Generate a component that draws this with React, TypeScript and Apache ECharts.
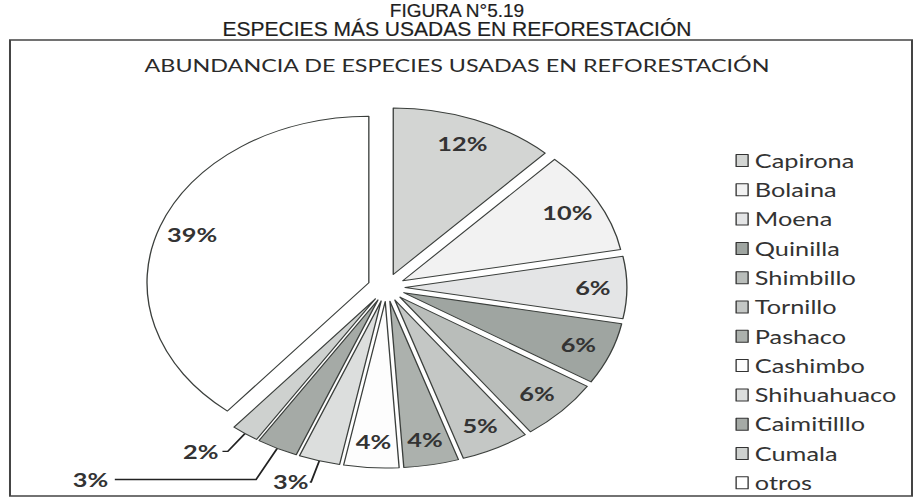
import React, { useEffect, useRef } from 'react';
import * as echarts from 'echarts';

const names = ['Capirona', 'Bolaina', 'Moena', 'Quinilla', 'Shimbillo', 'Tornillo', 'Pashaco', 'Cashimbo', 'Shihuahuaco', 'Caimitilllo', 'Cumala', 'otros'];
const values = [12, 10, 6, 6, 6, 5, 4, 4, 3, 3, 2, 39];
const colors = ['#d3d5d3', '#f2f2f2', '#e4e5e6', '#9fa5a1', '#b9bdba', '#c4c7c5', '#acb1ad', '#fdfdfd', '#dcdedd', '#a5aaa6', '#ced1cf', '#ffffff'];

const docTitle1 = 'FIGURA N°5.19';
const docTitle2 = 'ESPECIES MÁS USADAS EN REFORESTACIÓN';
const chartTitle = 'ABUNDANCIA DE ESPECIES USADAS EN REFORESTACIÓN';

const INNER_W = 686;
const SCALE_X = 914 / INNER_W;

export default function App() {
  const ref = useRef<HTMLDivElement>(null);
  useEffect(() => {
    const chart = echarts.init(ref.current!, undefined, { renderer: 'svg' });
    const inv = 1 / SCALE_X;
    const outside: Record<number, { length: number; length2: number; gap: number }> = {
      8: { length: 22, length2: 1, gap: 1 },
      9: { length: 35, length2: 106, gap: 5 },
      10: { length: 22, length2: 4, gap: 3 },
    };
    const labelFont = { fontFamily: 'Lato', fontWeight: 'bold' as const, fontSize: 19, color: '#333', textBorderWidth: 0 };
    const mainData = names.map((name, i) => ({
      name,
      value: values[i],
      selected: true,
      itemStyle: { color: colors[i] },
      label: outside[i]
        ? { show: true, position: 'outside', formatter: '{c}%', distanceToLabelLine: outside[i].gap, ...labelFont }
        : { show: false },
      labelLine: outside[i]
        ? { show: true, length: outside[i].length, length2: outside[i].length2, lineStyle: { color: '#222', width: 1.4 } }
        : { show: false },
    }));
    const labelData = names.map((name, i) => ({
      name,
      value: values[i],
      selected: true,
      label: { show: !outside[i] },
    }));
    chart.setOption({
      animation: false,
      backgroundColor: '#ffffff',
      title: {
        text: chartTitle,
        left: 'center',
        top: 51,
        textStyle: { fontFamily: 'Lato', fontWeight: 'normal', fontSize: 17.5, color: '#2a2a2a' },
      },
      legend: {
        orient: 'vertical',
        left: 547,
        top: 146,
        height: 420,
        itemWidth: 9,
        itemHeight: 12,
        itemGap: 10.3,
        icon: 'rect',
        selectedMode: false,
        data: names,
        itemStyle: { borderColor: '#333', borderWidth: 1 },
        textStyle: { fontFamily: 'Lato', fontSize: 19, color: '#333' },
      },
      graphic: [
        {
          type: 'text', x: INNER_W / 2, y: 11, scaleX: inv,
          style: { text: docTitle1, font: '19px "Liberation Sans"', fill: '#1e1e1e', stroke: '#1e1e1e', lineWidth: 0.2, textAlign: 'center', textVerticalAlign: 'middle', align: 'center', verticalAlign: 'middle' },
        },
        {
          type: 'text', x: INNER_W / 2, y: 29, scaleX: inv,
          style: { text: docTitle2, font: '21px "Liberation Sans"', fill: '#1e1e1e', stroke: '#1e1e1e', lineWidth: 0.2, textAlign: 'center', textVerticalAlign: 'middle', align: 'center', verticalAlign: 'middle' },
        },
        {
          type: 'rect', z: -1,
          shape: { x: 7.5, y: 40, width: 677, height: 456 },
          style: { fill: 'none', stroke: '#444', lineWidth: 1.5 },
        },
      ],
      series: [
        {
          type: 'pie',
          name: 'main',
          center: [290, 287.5],
          radius: [0, 166.5],
          startAngle: 90,
          clockwise: true,
          selectedMode: 'multiple',
          selectedOffset: 14,
          avoidLabelOverlap: false,
          silent: true,
          emphasis: { disabled: true },
          itemStyle: { borderColor: '#3b3f3c', borderWidth: 1 },
          data: mainData,
        },
        {
          type: 'pie',
          name: 'labels',
          center: [290, 287.5],
          radius: [0, 276],
          startAngle: 90,
          clockwise: true,
          selectedMode: 'multiple',
          selectedOffset: 14,
          avoidLabelOverlap: false,
          silent: true,
          emphasis: { disabled: true },
          itemStyle: { color: 'rgba(0,0,0,0)', borderWidth: 0 },
          label: { position: 'inside', formatter: '{c}%', ...labelFont },
          labelLine: { show: false },
          data: labelData,
        },
      ],
    });
    return () => chart.dispose();
  }, []);
  return (
    <div style={{ position: 'absolute', left: 0, top: 0, width: 914, height: 501, overflow: 'hidden', background: '#fff' }}>
      <div ref={ref} style={{ width: INNER_W, height: 501, transform: `scaleX(${SCALE_X})`, transformOrigin: '0 0' }} />
    </div>
  );
}
